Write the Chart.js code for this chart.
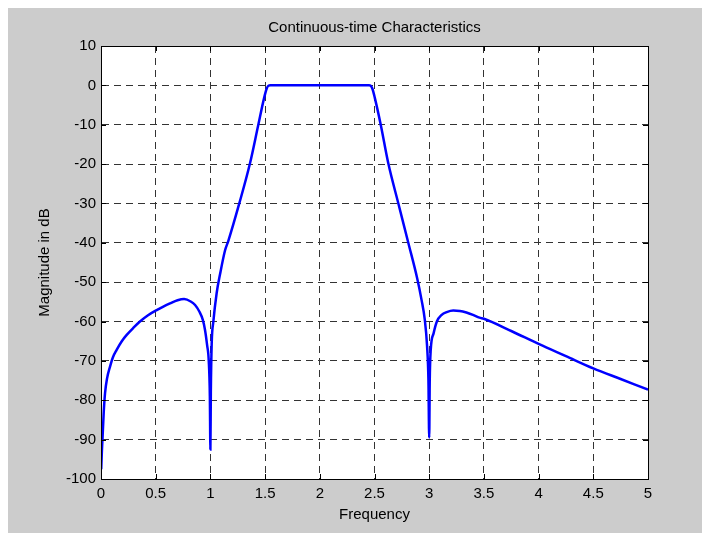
<!DOCTYPE html>
<html>
<head>
<meta charset="utf-8">
<script src="https://cdn.jsdelivr.net/npm/chart.js@4/dist/chart.umd.min.js"></script>
<style>
  html, body { margin: 0; padding: 0; background: #ffffff; }
  #wrap { width: 702px; height: 533px; }
</style>
</head>
<body>
<div id="wrap"><canvas id="c" width="702" height="533"></canvas></div>
<script>
// ---- data ----
const chartTitle = "Continuous-time Characteristics";
const xTitle = "Frequency";
const yTitle = "Magnitude in dB";

const xTickLabels = ["0", "0.5", "1", "1.5", "2", "2.5", "3", "3.5", "4", "4.5", "5"];
const yTickLabels = ["-100", "-90", "-80", "-70", "-60", "-50", "-40", "-30", "-20", "-10", "0", "10"];

const frequency = [
  0.002, 0.008, 0.015, 0.025, 0.037, 0.055, 0.082, 0.11, 0.143, 0.19, 0.235, 0.30, 0.356, 0.43, 0.509, 0.57, 0.631, 0.70, 0.76, 0.82, 0.86, 0.90, 0.93, 0.95, 0.97, 0.985, 0.995, 1.0,
  1.004, 1.012, 1.027, 1.057, 1.088, 1.133, 1.164, 1.264, 1.362, 1.438, 1.49, 1.515, 1.53, 1.55,
  2.0, 2.45, 2.465, 2.48, 2.504, 2.557, 2.626, 2.718, 2.81, 2.89, 2.93, 2.96, 2.98, 2.993, 3.0,
  3.005, 3.014, 3.04, 3.07, 3.114, 3.16, 3.22, 3.28, 3.34, 3.40, 3.46, 3.5, 3.75, 4.0, 4.25, 4.5, 4.75, 5.0
];
const magnitude = [
  -97.5, -93, -89, -83, -78.2, -74.5, -71.5, -69, -67.2, -65, -63.4, -61.5, -60, -58.4, -57.1, -56.2, -55.4, -54.6, -54.3, -54.9, -55.8, -57.5, -59.5, -62, -66, -70, -79, -92.5,
  -78, -65.5, -60, -52.8, -48, -42, -39.5, -30, -19.8, -10, -3.3, -0.8, -0.1, 0,
  0, 0, -0.1, -0.8, -3.3, -10, -19.8, -30, -40.1, -49, -54.5, -59.6, -66, -75, -89.5,
  -75, -67.2, -63, -60, -58.3, -57.6, -57.2, -57.3, -57.7, -58.3, -59, -59.3, -62.4, -65.7, -68.8, -71.9, -74.6, -77.3
];

const xMin = 0, xMax = 5, xStep = 0.5;
const yMin = -100, yMax = 10, yStep = 10;

const points = frequency.map((f, i) => ({ x: f, y: magnitude[i] }));

const FONT = "'Liberation Sans', Arial, Helvetica, sans-serif";

const figurePlugin = {
  id: 'figure',
  beforeDraw(chart) {
    const ctx = chart.ctx;
    const a = chart.chartArea;
    ctx.save();
    ctx.fillStyle = '#ffffff';
    ctx.fillRect(0, 0, chart.width, chart.height);
    ctx.fillStyle = '#cccccc';
    ctx.fillRect(8, 8, chart.width - 8, chart.height - 8);
    ctx.fillStyle = '#ffffff';
    ctx.fillRect(a.left, a.top, a.right - a.left, a.bottom - a.top);
    ctx.restore();
  },
  afterDraw(chart) {
    const ctx = chart.ctx;
    const a = chart.chartArea;
    const xs = chart.scales.x, ys = chart.scales.y;
    const L = 5;
    ctx.save();
    ctx.strokeStyle = '#000000';
    ctx.lineWidth = 1;
    ctx.setLineDash([]);
    ctx.beginPath();
    ctx.rect(Math.round(a.left) + 0.5, Math.round(a.top) + 0.5,
             Math.round(a.right - a.left), Math.round(a.bottom - a.top));
    ctx.stroke();
    ctx.beginPath();
    xs.ticks.forEach(t => {
      const px = Math.round(xs.getPixelForValue(t.value)) + 0.5;
      ctx.moveTo(px, a.bottom); ctx.lineTo(px, a.bottom - L);
      ctx.moveTo(px, a.top); ctx.lineTo(px, a.top + L);
    });
    ys.ticks.forEach(t => {
      const py = Math.round(ys.getPixelForValue(t.value)) + 0.5;
      ctx.moveTo(a.left, py); ctx.lineTo(a.left + L, py);
      ctx.moveTo(a.right, py); ctx.lineTo(a.right - L, py);
    });
    ctx.stroke();
    ctx.restore();
  }
};

new Chart(document.getElementById('c'), {
  type: 'line',
  data: {
    datasets: [{
      data: points,
      borderColor: '#0000ff',
      borderWidth: 2.5,
      pointRadius: 0,
      fill: false,
      cubicInterpolationMode: 'monotone'
    }]
  },
  options: {
    responsive: false,
    animation: false,
    events: [],
    layout: { padding: { left: 8, right: 54, top: 0, bottom: 0 } },
    plugins: {
      legend: { display: false },
      tooltip: { enabled: false },
      title: {
        display: true,
        text: chartTitle,
        fullSize: false,
        color: '#000000',
        font: { family: FONT, size: 15, weight: 'normal', lineHeight: 1.2 },
        padding: { top: 19, bottom: 9 }
      }
    },
    scales: {
      x: {
        type: 'linear',
        min: xMin, max: xMax,
        afterFit(s) { s.height = 54; },
        ticks: {
          stepSize: xStep,
          color: '#000000',
          font: { family: FONT, size: 15 },
          padding: 6,
          maxRotation: 0,
          autoSkip: false,
          callback: (v, i) => xTickLabels[i] !== undefined ? xTickLabels[i] : String(v)
        },
        grid: { color: '#333333', lineWidth: 1, drawTicks: false },
        border: { display: true, color: '#000000', dash: [7, 5] },
        title: {
          display: true, text: xTitle, color: '#000000',
          font: { family: FONT, size: 15, lineHeight: 1.2 },
          padding: { top: 0, bottom: 9 }
        }
      },
      y: {
        type: 'linear',
        min: yMin, max: yMax,
        afterFit(s) { s.width = 93; },
        ticks: {
          stepSize: yStep,
          color: '#000000',
          font: { family: FONT, size: 15 },
          padding: 5,
          autoSkip: false,
          callback: (v, i) => yTickLabels[i] !== undefined ? yTickLabels[i] : String(v)
        },
        grid: { color: '#333333', lineWidth: 1, drawTicks: false },
        border: { display: true, color: '#000000', dash: [7, 5] },
        title: {
          display: true, text: yTitle, color: '#000000',
          font: { family: FONT, size: 15, lineHeight: 1.2 },
          padding: { top: 28, bottom: 0 }
        }
      }
    }
  },
  plugins: [figurePlugin]
});
</script>
</body>
</html>
